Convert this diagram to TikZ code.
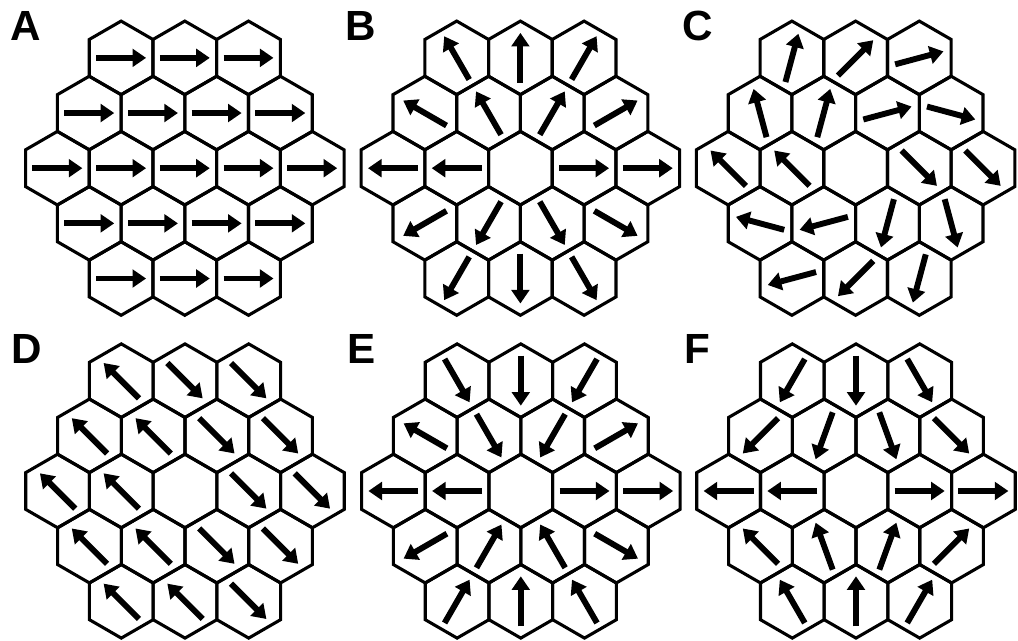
\documentclass[tikz,border=0pt]{standalone}
\usepackage{fontspec}
\setmainfont{Liberation Sans}
\usepackage{tikz}
\usetikzlibrary{arrows.meta,shapes.geometric,calc}

\def\hexdx{{-1,0,1,-1.5,-0.5,0.5,1.5,-2,-1,0,1,2,-1.5,-0.5,0.5,1.5,-1,0,1}}
\def\hexdy{{2,2,2,1,1,1,1,0,0,0,0,0,-1,-1,-1,-1,-2,-2,-2}}

\begin{document}
\begin{tikzpicture}[
  cell/.style={draw=black, regular polygon, regular polygon sides=6, shape border rotate=30, minimum size=1.839cm, inner sep=0pt, outer sep=0pt, line width=2.2pt},
  spin/.style={line width=4.2pt, -{Triangle[length=3.4mm, width=4.4mm]}},
  tag/.style={anchor=base, font=\fontsize{30}{32}\selectfont\bfseries}]
\useasboundingbox (0,0) rectangle (25.45,16.025);
\node[tag] (tagA) at (0.65,15.01) {A};
\node[tag] (tagB) at (9.03,15.01) {B};
\node[tag] (tagC) at (17.45,15.01) {C};
\node[tag] (tagD) at (0.67,6.94) {D};
\node[tag] (tagE) at (9.03,6.94) {E};
\node[tag] (tagF) at (17.43,6.94) {F};
\foreach \pname/\px/\py/\spins in {
  A/4.62/11.82/{0,0,0,0,0,0,0,0,0,0,0,0,0,0,0,0,0,0,0},
  B/13.01/11.82/{120,90,60,150,120,60,30,180,180,-1,0,0,210,240,300,330,240,270,300},
  C/21.39/11.82/{75,45,15,105,75,15,345,135,135,-1,315,315,165,195,255,285,195,225,255},
  D/4.625/3.75/{135,315,315,135,135,315,315,135,135,-1,315,315,135,135,315,315,135,135,315},
  E/13.02/3.75/{300,270,240,150,300,240,30,180,180,-1,0,0,210,60,120,330,60,90,120},
  F/21.40/3.75/{240,270,300,225,250,290,315,180,180,-1,0,0,135,110,70,45,120,90,60}}{
  \foreach \t [count=\i from 0] in \spins {
    \pgfmathsetmacro\dx{\hexdx[\i]}
    \pgfmathsetmacro\dy{\hexdy[\i]}
    \node[cell] (\pname\i) at (\px+\dx*1.5925, \py+\dy*1.379) {};
    \ifnum\t<0 \else
      \draw[spin] ($(\pname\i)+(\t+180:0.625)$) -- ($(\pname\i)+(\t:0.625)$);
    \fi
  }
}
\end{tikzpicture}
\end{document}
